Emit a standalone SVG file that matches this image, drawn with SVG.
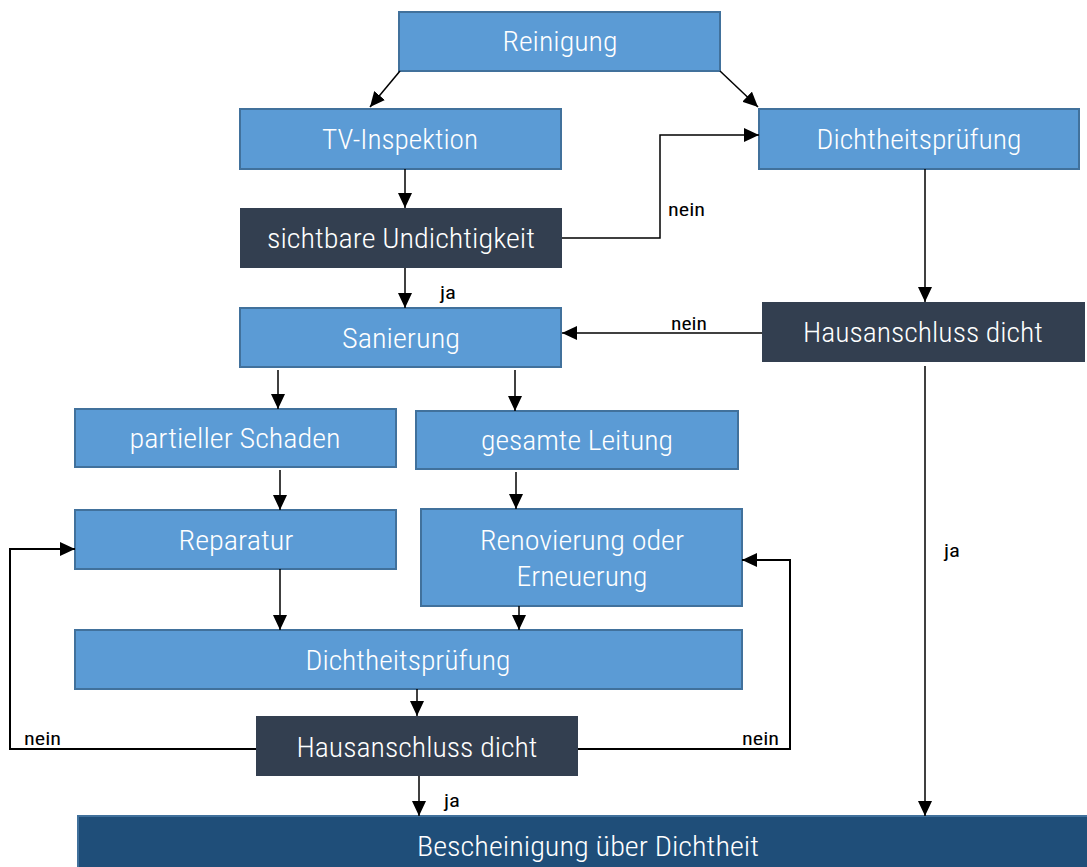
<svg xmlns="http://www.w3.org/2000/svg" width="1087" height="867" viewBox="0 0 1087 867">
<defs>
<marker id="ah" markerUnits="userSpaceOnUse" markerWidth="16" markerHeight="14" refX="15" refY="7" orient="auto">
<path d="M0,0 L15,7 L0,14 Z" fill="#000"/>
</marker>
<style>
.b{fill:#5b9bd5;stroke:#41719c;stroke-width:2}
.d{fill:#333f50}
.f{fill:#1f4e79;stroke:#41719c;stroke-width:2}
.t{fill:#fff;font-family:"Roboto Condensed","Liberation Sans Narrow","Roboto","Liberation Sans",sans-serif;font-size:28px;font-weight:300;text-anchor:middle}
.l{fill:#000;font-family:"Roboto Condensed","Liberation Sans Narrow","Roboto","Liberation Sans",sans-serif;font-size:19px;font-weight:400}
.c{fill:none;stroke:#000;stroke-width:1.5;marker-end:url(#ah)}
.c2{fill:none;stroke:#000;stroke-width:2;marker-end:url(#ah)}
</style>
</defs>
<rect width="1087" height="867" fill="#fff"/>
<g id="reinigung"><rect class="b" x="399" y="12" width="321" height="59"/><text class="t" x="560" y="51" textLength="115" lengthAdjust="spacingAndGlyphs">Reinigung</text></g>
<g id="tv-inspektion"><rect class="b" x="240" y="109" width="321" height="60"/><text class="t" x="400" y="149" textLength="156" lengthAdjust="spacingAndGlyphs">TV-Inspektion</text></g>
<g id="sichtbare-undichtigkeit"><rect class="d" x="240" y="208" width="322" height="60"/><text class="t" x="401" y="248" textLength="268" lengthAdjust="spacingAndGlyphs">sichtbare Undichtigkeit</text></g>
<g id="dichtheit1"><rect class="b" x="759" y="109" width="320" height="60"/><text class="t" x="919" y="149" textLength="205" lengthAdjust="spacingAndGlyphs">Dichtheitsprüfung</text></g>
<g id="hausanschluss1"><rect class="d" x="762" y="302" width="323" height="60"/><text class="t" x="923" y="342" textLength="240" lengthAdjust="spacingAndGlyphs">Hausanschluss dicht</text></g>
<g id="sanierung"><rect class="b" x="240" y="308" width="321" height="59"/><text class="t" x="401" y="348" textLength="118" lengthAdjust="spacingAndGlyphs">Sanierung</text></g>
<g id="partieller-schaden"><rect class="b" x="75" y="409" width="321" height="58"/><text class="t" x="235" y="448" textLength="211" lengthAdjust="spacingAndGlyphs">partieller Schaden</text></g>
<g id="gesamte-leitung"><rect class="b" x="416" y="411" width="322" height="58"/><text class="t" x="577" y="450" textLength="192" lengthAdjust="spacingAndGlyphs">gesamte Leitung</text></g>
<g id="reparatur"><rect class="b" x="75" y="510" width="321" height="59"/><text class="t" x="236" y="550" textLength="115" lengthAdjust="spacingAndGlyphs">Reparatur</text></g>
<g id="renovierung"><rect class="b" x="421" y="509" width="321" height="97"/><text class="t" x="582" y="550" textLength="204" lengthAdjust="spacingAndGlyphs">Renovierung oder</text><text class="t" x="582" y="586" textLength="131" lengthAdjust="spacingAndGlyphs">Erneuerung</text></g>
<g id="dichtheit2"><rect class="b" x="75" y="630" width="667" height="59"/><text class="t" x="408" y="670" textLength="205" lengthAdjust="spacingAndGlyphs">Dichtheitsprüfung</text></g>
<g id="hausanschluss2"><rect class="d" x="256" y="716" width="322" height="60"/><text class="t" x="417" y="757" textLength="241" lengthAdjust="spacingAndGlyphs">Hausanschluss dicht</text></g>
<g id="bescheinigung"><rect class="f" x="78" y="816" width="1020" height="60"/><text class="t" x="588" y="856" textLength="342" lengthAdjust="spacingAndGlyphs">Bescheinigung über Dichtheit</text></g>
<g id="connectors">
<path class="c" d="M400,71 L370,107"/>
<path class="c" d="M720,71 L758,107"/>
<path class="c" d="M405,169 V208"/>
<path class="c" d="M562,238 H660 V135 H759"/>
<path class="c" d="M405,268 V308"/>
<path class="c" d="M925,169 V302"/>
<path class="c2" d="M762,333 H562" style="stroke:#404040"/>
<path class="c" d="M278,370 V409"/>
<path class="c" d="M515,370 V411"/>
<path class="c" d="M280,470 V510"/>
<path class="c" d="M516,472 V509"/>
<path class="c" d="M280,569 V630"/>
<path class="c" d="M519,606 V630"/>
<path class="c" d="M417,689 V716"/>
<path class="c" d="M419,776 V816"/>
<path class="c2" d="M256,749 H10 V549 H75"/>
<path class="c2" d="M578,749 H790 V560 H742"/>
<path class="c" d="M925,366 V816"/>
</g>
<g id="labels">
<text class="l" x="668" y="216" textLength="37" lengthAdjust="spacingAndGlyphs">nein</text>
<text class="l" x="440" y="299" textLength="16" lengthAdjust="spacingAndGlyphs">ja</text>
<text class="l" x="671" y="330" textLength="36" lengthAdjust="spacingAndGlyphs">nein</text>
<text class="l" x="24" y="745" textLength="37" lengthAdjust="spacingAndGlyphs">nein</text>
<text class="l" x="742" y="745" textLength="37" lengthAdjust="spacingAndGlyphs">nein</text>
<text class="l" x="444" y="807" textLength="16" lengthAdjust="spacingAndGlyphs">ja</text>
<text class="l" x="944" y="557" textLength="16" lengthAdjust="spacingAndGlyphs">ja</text>
</g>
</svg>
